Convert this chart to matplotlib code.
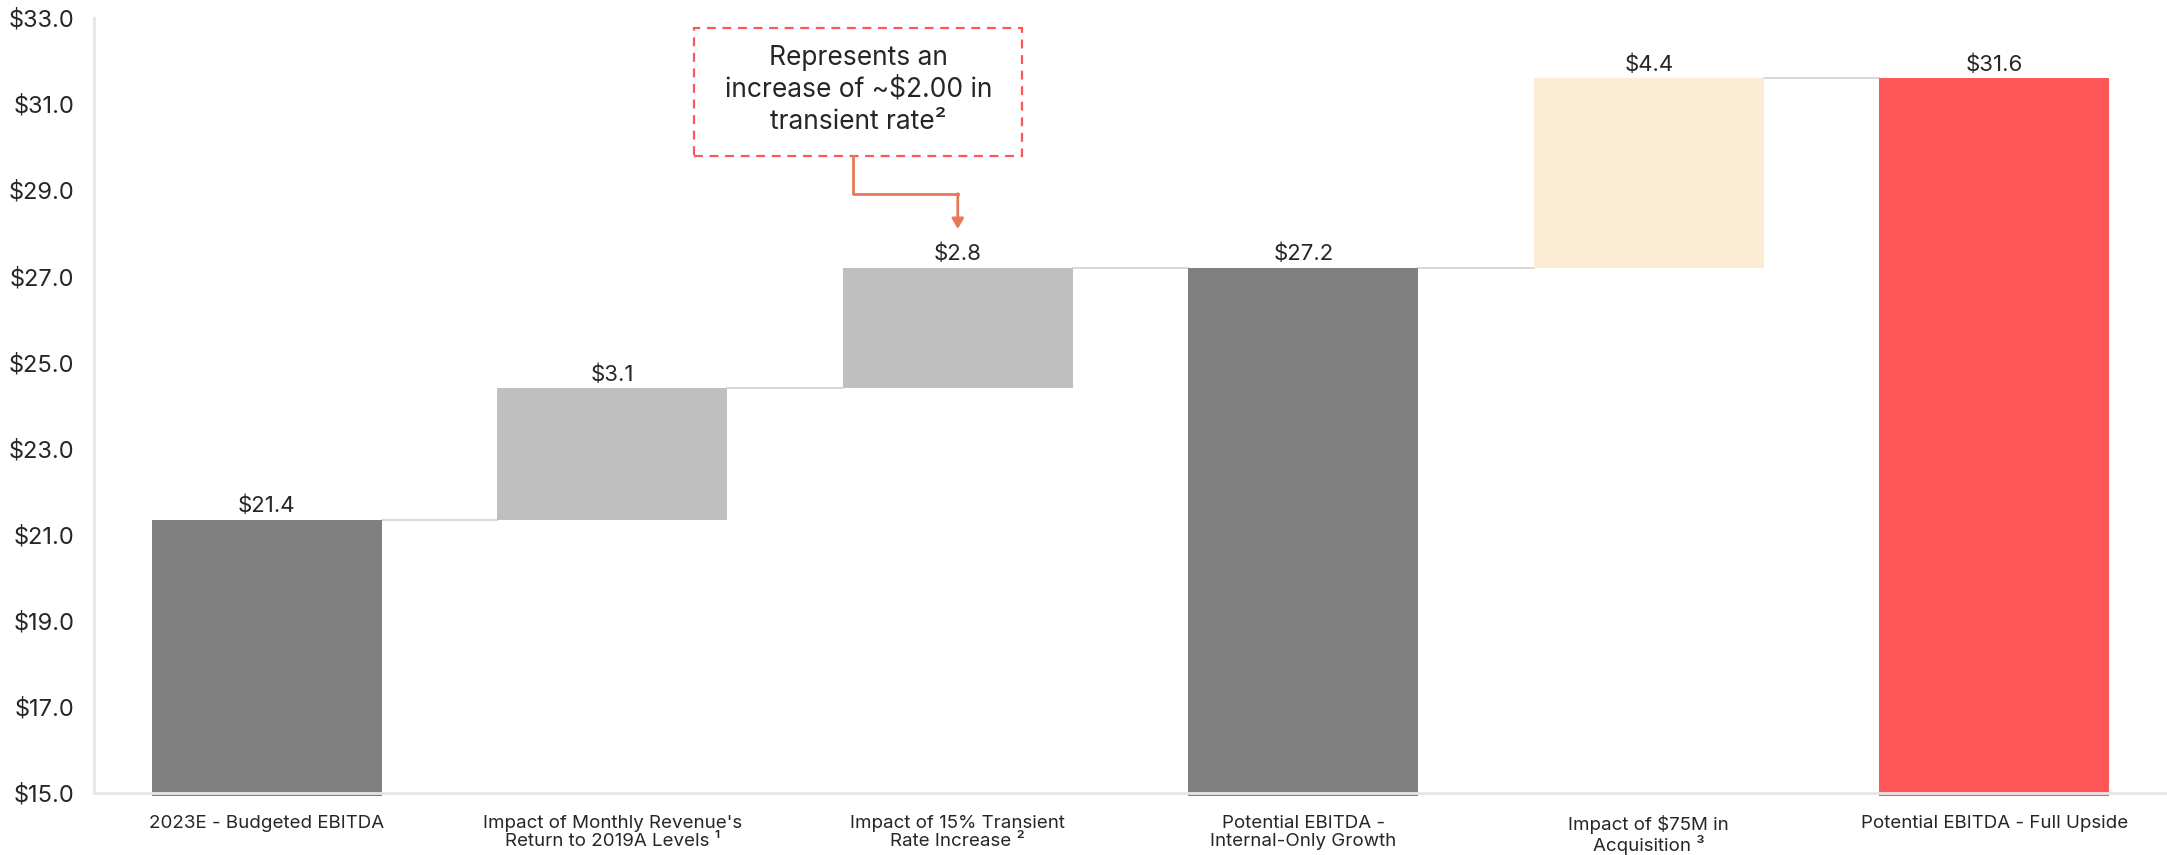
import matplotlib
matplotlib.use("Agg")
import matplotlib.pyplot as plt
from matplotlib.patches import Rectangle

plt.rcParams['font.family'] = ['Inter', 'DejaVu Sans']

categories = [
    "2023E - Budgeted EBITDA",
    "Impact of Monthly Revenue's\nReturn to 2019A Levels \u00b9",
    "Impact of 15% Transient\nRate Increase \u00b2",
    "Potential EBITDA -\nInternal-Only Growth",
    "Impact of $75M in\nAcquisition \u00b3",
    "Potential EBITDA - Full Upside",
]
start_value = 21.35
step1_values = [3.05, 2.8]
subtotal_value = 27.2
step2_values = [4.4]
total_value = 31.6
value_labels = ["$21.4", "$3.1", "$2.8", "$27.2", "$4.4", "$31.6"]
y_ticks = [15, 17, 19, 21, 23, 25, 27, 29, 31, 33]
note_text = "Represents an\nincrease of ~$2.00 in\ntransient rate\u00b2"

DARK = "#808080"
LIGHT = "#BFBFBF"
CREAM = "#FCECD3"
RED = "#FF5757"
TXT = "#262626"
AX = "#E6E6E6"

fig = plt.figure(figsize=(21.67, 8.55), dpi=100)
ax = fig.add_axes([0.0434, 0.0725, 0.9566, 0.9065])
ymin = 15.0
ax.set_ylim(ymin, 33)
ax.set_xlim(-0.5, 5.5)
w = 0.666

bars = []
bars.append((ymin, start_value, DARK))
level = start_value
for d in step1_values:
    bars.append((level, level + d, LIGHT))
    level += d
bars.append((ymin, subtotal_value, DARK))
level = subtotal_value
for d in step2_values:
    bars.append((level, level + d, CREAM))
    level += d
bars.append((ymin, total_value, RED))

for i, (b, t, c) in enumerate(bars):
    bb = b - 0.07 if b == ymin else b
    ax.bar(i, t - bb, bottom=bb, width=w, color=c, zorder=2, clip_on=False)
    ax.text(i, t + 0.08, value_labels[i], ha="center", va="bottom",
            fontsize=16, color=TXT, zorder=5)

for i in range(len(bars) - 1):
    y = bars[i][1]
    ax.plot([i + w / 2, i + 1 - w / 2], [y, y], color="#D9D9D9", lw=1.5, zorder=1)

ax.set_yticks(y_ticks)
ax.set_yticklabels([f"${v:.1f}" for v in y_ticks], fontsize=17, color=TXT)
ax.set_xticks(range(len(categories)))
ax.set_xticklabels(categories, fontsize=13.5, color=TXT, linespacing=1.05)
ax.tick_params(axis="both", length=0)
ax.tick_params(axis="y", pad=14)
ax.tick_params(axis="x", pad=16)
for s in ["top", "right"]:
    ax.spines[s].set_visible(False)
for s in ["left", "bottom"]:
    ax.spines[s].set_color(AX)
    ax.spines[s].set_linewidth(2)
    ax.spines[s].set_zorder(3)

bx0, bx1, by0, by1 = 1.237, 2.187, 29.79, 32.77
ax.add_patch(Rectangle((bx0, by0), bx1 - bx0, by1 - by0, fill=False,
                       edgecolor=RED, lw=1.6, ls=(0, (4, 3)), zorder=4))
ax.text((bx0 + bx1) / 2, (by0 + by1) / 2 + 0.05, note_text, ha="center", va="center",
        fontsize=19, color=TXT, linespacing=1.3, zorder=5)
ARW = "#E8785A"
ax.plot([1.696, 1.696, 2.0], [by0, 28.92, 28.92], color=ARW, lw=2, zorder=4)
ax.annotate("", xy=(2.0, 28.1), xytext=(2.0, 28.92),
            arrowprops=dict(arrowstyle="-|>,head_width=0.35,head_length=0.6",
                            color=ARW, lw=2, shrinkA=0, shrinkB=0), zorder=4)

fig.savefig("out.png", dpi=100, facecolor="white")
